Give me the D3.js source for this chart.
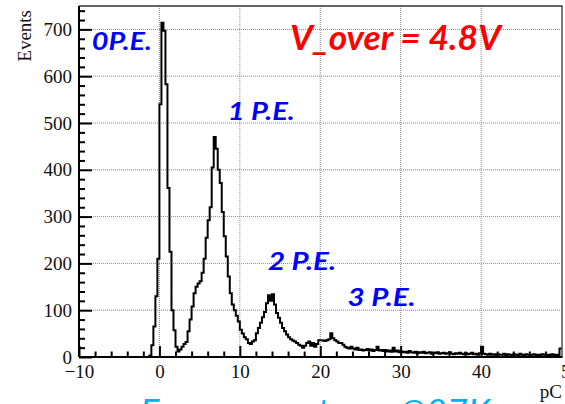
<!DOCTYPE html>
<html><head><meta charset="utf-8">
<script src="https://cdn.jsdelivr.net/npm/d3@7"></script>
<style>
html,body{margin:0;padding:0;background:#fff;}
svg{display:block;}
.serif{font-family:"Liberation Serif","DejaVu Serif",serif;}
</style></head>
<body>
<svg id="c" width="565" height="404"></svg>
<script>
// ---- data ----
const binStart = -10;
const binWidth = 0.25;
// counts per 0.25 pC bin from -10 to 50 pC
const counts = [
  // -10 .. -1.25 (35 bins)
  0,0,0,0,0,0,0,0,0,0, 0,0,0,0,0,0,0,0,0,0, 0,0,0,0,0,0,0,0,0,0, 0,0,0,0,0,
  // -1.25 .. 2.0
  3,25,65,130,210,540,714,697,583,361,225,100,57,
  // 2.0 .. 5.0
  22,12,16,22,28,32,55,80,108,136,150,157,
  // 5.0 .. 8.0
  162,180,210,255,292,320,405,470,445,400,372,310,
  // 8.0 .. 11.0
  258,215,172,136,112,100,88,76,58,50,42,38,
  // 11.0 .. 14.0
  30,28,33,36,51,62,73,85,96,115,132,120,
  // 14.0 .. 17.0
  134,112,94,84,73,62,55,48,42,38,35,33,
  // 17.0 .. 20.0
  30,26,24,20,24,30,33,24,30,22,28,36,
  // 20.0 .. 23.0
  36,35,34,36,38,51,40,36,33,30,30,26,
  // 23.0 .. 26.0
  22,20,18,22,18,16,20,15,16,14,15,17,
  // 26.0 .. 29.0
  14,16,13,15,22,14,15,13,15,12,14,11,
  // 29.0 .. 30.0
  20,12,14,10,
  // 30 .. 40
  12,10,11,9,13,10,9,11,8,10, 9,11,8,9,10,7,9,8,10,7,
  8,9,7,8,10,7,6,8,7,9, 7,6,8,6,7,9,6,7,5,8,
  // 40 .. 50
  22,7,6,5,7,5,6,4,6,5, 5,7,4,6,5,4,6,5,4,7,
  5,4,6,5,4,5,6,4,5,4, 6,5,4,5,3,6,4,5,4,18
];
const xTicks = [-10, 0, 10, 20, 30, 40, 50];
const yTicks = [0, 100, 200, 300, 400, 500, 600, 700];
const xTitle = "pC";
const yTitle = "Events";
const peakLabels = ["0P.E.", "1 P.E.", "2 P.E.", "3 P.E."];
const peakLabelPos = [[-8.4, 656], [8.5, 506], [13.5, 186], [23.4, 109]]; // [pC, events] text baseline anchors
const titleText = "V_over = 4.8V";
const captionText = "Energy spectrum @87K";

// ---- layout ----
const svg = d3.select("#c");
const L = 79, R = 561.5, T = 6, B = 357;
const x = d3.scaleLinear().domain([-10, 50]).range([L, R]);
const y = d3.scaleLinear().domain([0, 750]).range([B, T]);

// grid
const g = svg.append("g");
g.selectAll("line.gx").data(xTicks.filter(d => d > -10 && d < 50)).enter().append("line")
  .attr("x1", d => x(d)).attr("x2", d => x(d)).attr("y1", T).attr("y2", B)
  .attr("stroke", "#8a8a8a").attr("stroke-width", 1).attr("stroke-dasharray", "1,1");
g.selectAll("line.gy").data(yTicks.filter(d => d > 0)).enter().append("line")
  .attr("x1", L).attr("x2", R).attr("y1", d => y(d)).attr("y2", d => y(d))
  .attr("stroke", "#8a8a8a").attr("stroke-width", 1).attr("stroke-dasharray", "1,1");

// frame top/right
svg.append("line").attr("x1", L).attr("x2", R + 1).attr("y1", T).attr("y2", T)
  .attr("stroke", "#333").attr("stroke-width", 1.3);
svg.append("line").attr("x1", R + 0.5).attr("x2", R + 0.5).attr("y1", T).attr("y2", B)
  .attr("stroke", "#333").attr("stroke-width", 1.3);

// histogram
const pts = counts.map((c, i) => [binStart + i * binWidth, c]);
pts.unshift([binStart, 0]);
pts.push([binStart + counts.length * binWidth, counts[counts.length - 1]]);
const line = d3.line().x(d => x(d[0])).y(d => y(d[1])).curve(d3.curveStepAfter);
svg.append("path").attr("d", line(pts)).attr("fill", "none")
  .attr("stroke", "#000").attr("stroke-width", 2).attr("stroke-linejoin", "miter");

// axes
const yMinor = d3.range(0, 751, 20).filter(v => v % 100 !== 0);
const xMinor = d3.range(-10, 51, 2).filter(v => v % 10 !== 0);

const ya = svg.append("g").attr("transform", `translate(${L},0)`)
  .call(d3.axisLeft(y).tickValues(yTicks).tickSize(-13).tickPadding(7));
ya.attr("font-family", null).attr("font-size", null).attr("class", "serif");
ya.append("g").call(d3.axisLeft(y).tickValues(yMinor).tickSize(-6).tickFormat(""));
ya.selectAll("g g .domain").remove();
ya.select(".domain").attr("stroke", "#000").attr("stroke-width", 2).attr("d", `M0,${T}V${B}`);
ya.selectAll(".tick line").attr("stroke", "#000").attr("stroke-width", 2);
ya.selectAll(".tick text").style("font-size", "19px").attr("fill", "#111");

const xa = svg.append("g").attr("transform", `translate(0,${B})`)
  .call(d3.axisBottom(x).tickValues(xTicks).tickSize(-11).tickPadding(8));
xa.attr("font-family", null).attr("font-size", null).attr("class", "serif");
xa.append("g").call(d3.axisBottom(x).tickValues(xMinor).tickSize(-5.5).tickFormat(""));
xa.selectAll("g g .domain").remove();
xa.select(".domain").attr("stroke", "#000").attr("stroke-width", 2).attr("d", `M${L},0H${R + 1}`);
xa.selectAll(".tick line").attr("stroke", "#000").attr("stroke-width", 2);
xa.selectAll(".tick text").style("font-size", "19px").attr("fill", "#111");
xa.selectAll(".tick text").filter(d => d === 50).attr("text-anchor", "start").attr("x", -1);
xa.selectAll(".tick").filter(d => d === 50).select("line").remove();

// axis titles
svg.append("text").attr("class", "serif").attr("transform", "translate(31,10) rotate(-90)")
  .attr("text-anchor", "end").style("font-size", "19px").attr("fill", "#111")
  .text(yTitle);
svg.append("text").attr("class", "serif").attr("x", 562).attr("y", 398).attr("text-anchor", "end")
  .style("font-size", "19px").attr("fill", "#111").text(xTitle);

// annotations
const annFont = "Lato, 'Open Sans', sans-serif";
const annWidths = [60, 67, 68, 68];
svg.selectAll("text.pe").data(peakLabels).enter().append("text")
  .attr("x", (d, i) => x(peakLabelPos[i][0]))
  .attr("y", (d, i) => y(peakLabelPos[i][1]))
  .attr("font-family", annFont).attr("font-size", 25).attr("font-weight", "bold")
  .attr("font-style", "italic").attr("fill", "#0000ff")
  .attr("textLength", (d, i) => annWidths[i]).attr("lengthAdjust", "spacingAndGlyphs")
  .text(d => d);

svg.append("text").attr("x", 290).attr("y", 50)
  .attr("font-family", annFont).attr("font-size", 34).attr("font-weight", "bold")
  .attr("font-style", "italic").attr("fill", "#ff0000")
  .attr("textLength", 211).attr("lengthAdjust", "spacingAndGlyphs")
  .text(titleText);

svg.append("text").attr("x", 140).attr("y", 424)
  .attr("font-family", annFont).attr("font-size", 34)
  .attr("font-style", "italic").attr("fill", "#00b0f0")
  .attr("textLength", 350).attr("lengthAdjust", "spacingAndGlyphs")
  .text(captionText);
</script>
</body></html>
